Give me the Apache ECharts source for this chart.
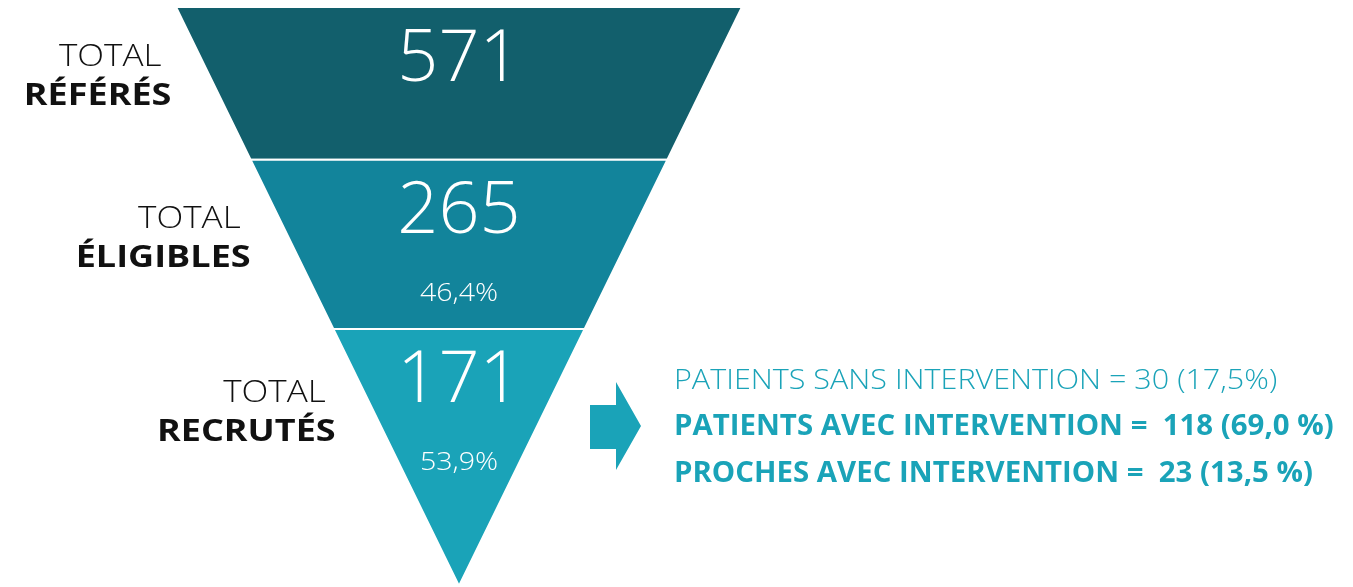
<!DOCTYPE html>
<html>
<head>
<meta charset="utf-8">
<script src="https://cdn.jsdelivr.net/npm/echarts@6/dist/echarts.min.js"></script>
<style>
html, body { margin: 0; padding: 0; background: #fff; }
#chart { width: 1353px; height: 587px; }
</style>
</head>
<body>
<div id="chart"></div>
<script>
// étages de l'entonnoir
var stageTop = ['TOTAL', 'TOTAL', 'TOTAL']
var stageNames = ['RÉFÉRÉS', 'ÉLIGIBLES', 'RECRUTÉS']
var stageCounts = [571, 265, 171]
var stagePcts = ['', '46,4%', '53,9%']

// répartition des recrutés
var groupNames = ['PATIENTS SANS INTERVENTION', 'PATIENTS AVEC INTERVENTION', 'PROCHES AVEC INTERVENTION']
var groupCounts = [30, 118, 23]
var groupPcts = ['(17,5%)', '(69,0 %)', '(13,5 %)']
var groupSep = [' = ', ' =  ', ' =  ']
var groupBold = [false, true, true]

var colors = ['#125f6c', '#12849b', '#1aa3b8']
// profondeur (0 = haut, 1 = pointe) des limites de chaque étage
var stageDepth = [0, 0.264, 0.556, 1]
var labelY = [57, 219, 393]
var FONT = "'Open Sans', 'Noto Sans', sans-serif"

var myChart = echarts.init(document.getElementById('chart'))

function renderStage(params, api) {
	var i = params.dataIndex
	var d0 = stageDepth[i]
	var d1 = stageDepth[i + 1]
	var p1 = api.coord([-(1 - d0), d0])
	var p2 = api.coord([1 - d0, d0])
	var p3 = api.coord([1 - d1, d1])
	var p4 = api.coord([-(1 - d1), d1])
	var cx = api.coord([0, 0])[0]
	var top = p1[1]
	var children = [
		{
			type: 'polygon',
			shape: { points: [p1, p2, p3, p4] },
			style: { fill: colors[i], stroke: '#fff', lineWidth: 2 }
		},
		{
			type: 'text',
			x: cx, y: top + 53,
			style: {
				text: String(api.value(1)),
				align: 'center', verticalAlign: 'middle',
				fill: '#fff', font: '300 72px ' + FONT
			}
		}
	]
	if (stagePcts[i]) {
		children.push({
			type: 'text',
			x: cx, y: top + 134,
			scaleX: 1.1,
			style: {
				text: stagePcts[i],
				align: 'center', verticalAlign: 'middle',
				fill: '#fff', font: '300 26px ' + FONT
			}
		})
	}
	return { type: 'group', children: children }
}

// libellés à gauche + bloc à droite
var graphics = []
stageNames.forEach(function (name, i) {
	// bord gauche du triangle à la hauteur du libellé
	var edge = 176 + (labelY[i] - 7) / 579 * 283
	graphics.push({
		type: 'text',
		x: edge - 39, y: labelY[i],
		scaleX: 1.13,
		style: {
			text: stageTop[i],
			align: 'right', verticalAlign: 'middle',
			fill: '#111', font: '300 31px ' + FONT
		}
	})
	graphics.push({
		type: 'text',
		x: edge - 29, y: labelY[i] + 39,
		scaleX: 1.2,
		style: {
			text: name,
			align: 'right', verticalAlign: 'middle',
			fill: '#111', font: 'bold 30px ' + FONT
		}
	})
})
graphics.push({
	type: 'polygon',
	shape: { points: [[590, 405], [616, 405], [616, 382], [641, 426], [616, 470], [616, 449], [590, 449]] },
	style: { fill: colors[2] }
})
groupNames.forEach(function (name, i) {
	graphics.push({
		type: 'text',
		x: 674, y: 381 + i * 46.5,
		scaleX: groupBold[i] ? 1.05 : 1.09,
		style: {
			text: name + groupSep[i] + groupCounts[i] + ' ' + groupPcts[i],
			align: 'left', verticalAlign: 'middle',
			fill: colors[2],
			font: (groupBold[i] ? 'bold ' : '300 ') + '28px ' + FONT
		}
	})
})

myChart.setOption({
	animation: false,
	grid: { left: 176, right: 611, top: 7, bottom: 1 },
	xAxis: { type: 'value', min: -1, max: 1, show: false },
	yAxis: { type: 'value', min: 0, max: 1, inverse: true, show: false },
	series: [
		{
			type: 'custom',
			renderItem: renderStage,
			data: stageCounts.map(function (v, i) { return [i, v] })
		}
	],
	graphic: graphics
})
</script>
</body>
</html>
